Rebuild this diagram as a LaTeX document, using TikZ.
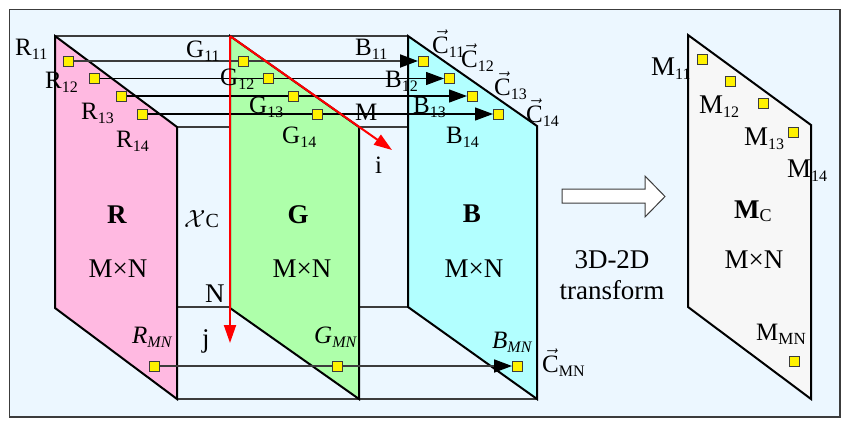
\documentclass[tikz,border=0pt]{standalone}
\usepackage{fontspec}
\setmainfont{Liberation Serif}
\usetikzlibrary{arrows.meta}
\definecolor{bgblue}{RGB}{236,247,255}
\definecolor{pinkf}{RGB}{255,185,225}
\definecolor{greenf}{RGB}{174,255,170}
\definecolor{cyanf}{RGB}{178,255,255}
\definecolor{grayf}{RGB}{247,247,247}
\definecolor{edgegray}{RGB}{60,60,60}
\newcommand\lsub[1]{\raisebox{-4pt}{\fontsize{16}{16}\selectfont #1}}
\newcommand\vecC{$\vec{\mbox{C}}$}
\pgfdeclarelayer{back}
\pgfsetlayers{back,main}
\begin{document}
\begin{tikzpicture}[x=1pt,y=-1pt,
  lbl/.style={font=\fontsize{25}{28}\selectfont, inner sep=0, anchor=base west},
  big/.style={font=\fontsize{27}{30}\selectfont, inner sep=0, anchor=base},
  panel/.style={draw=black, line width=2pt, line join=miter},
  edge/.style={draw=edgegray, line width=1.5pt},
  pt/.style={draw=edgegray, fill=yellow, line width=1pt, minimum size=10pt, inner sep=0, outer sep=0},
  row/.style={draw=black, line width=1.3pt, -{Triangle[length=18pt,width=13pt,color=black,fill=black]}},
  redarr/.style={draw=red, line width=2pt, -{Triangle[length=18pt,width=12pt]}}]
\useasboundingbox (0,0) rectangle (847,426);

% points
\node[pt] (r11) at (68,61) {};
\node[pt] (r12) at (94,78.5) {};
\node[pt] (r13) at (121,96) {};
\node[pt] (r14) at (142,114) {};
\node[pt] (g11) at (243,61) {};
\node[pt] (g12) at (268,78.5) {};
\node[pt] (g13) at (293,96) {};
\node[pt] (g14) at (317,114) {};
\node[pt] (b11) at (423,61) {};
\node[pt] (b12) at (449,78.5) {};
\node[pt] (b13) at (472,96) {};
\node[pt] (b14) at (498,114) {};
\node[pt] (rmn) at (154,366) {};
\node[pt] (gmn) at (337,366) {};
\node[pt] (bmn) at (517,366) {};
\node[pt] (m11) at (702,59) {};
\node[pt] (m12) at (730,81) {};
\node[pt] (m13) at (763,103) {};
\node[pt] (m14) at (793,132) {};
\node[pt] (mmn) at (794,361) {};

\begin{pgfonlayer}{back}
\fill[white] (0,0) rectangle (847,426);
\draw[fill=bgblue, draw=edgegray, line width=1.5pt] (9.5,9.5) rectangle (840,417);
% cuboid edges
\draw[edge] (55,36) -- (408,36);
\draw[edge] (177,127) -- (537,127);
\draw[edge] (55,307) -- (408,307);
\draw[edge] (177,399) -- (537,399);
% panels
\draw[panel, fill=pinkf] (55,36) -- (177,127) -- (177,399) -- (55,308) -- cycle;
\draw[panel, fill=greenf] (230,36) -- (359,127) -- (359,399) -- (230,308) -- cycle;
\draw[panel, fill=cyanf] (408,36) -- (537,126) -- (537,399) -- (408,307) -- cycle;
\draw[panel, fill=grayf] (688,35) -- (811,125) -- (811,399) -- (688,307) -- cycle;
% rows
\draw[row, draw=edgegray, line width=2pt] (r11) -- (b11);
\draw[row] (r12) -- (b12);
\draw[row] (r13) -- (b13);
\draw[row] (r14) -- (b14);
\draw[row, draw=edgegray, line width=1.8pt] (rmn) -- (bmn);
% block arrow
\draw[fill=white, draw=edgegray, line width=1pt] (562,189) -- (645,189) -- (645,176) -- (665,196.5) -- (645,217) -- (645,203) -- (562,203) -- cycle;
\end{pgfonlayer}

% red axes
\coordinate (gtl) at (230,36);
\coordinate (iend) at (392,150);
\coordinate (jend) at (230,343);
\draw[redarr] (gtl) -- (jend);
\draw[redarr] (gtl) -- (iend);

% labels
\node[lbl] (tR11) at (15,55) {R\lsub{11}};
\node[lbl] (tR12) at (45,88) {R\lsub{12}};
\node[lbl] (tR13) at (81,119) {R\lsub{13}};
\node[lbl] (tR14) at (116,147) {R\lsub{14}};
\node[lbl] (tG11) at (186,57) {G\lsub{11}};
\node[lbl] (tG12) at (220,85) {G\lsub{12}};
\node[lbl] (tG13) at (249,113) {G\lsub{13}};
\node[lbl] (tG14) at (282,143) {G\lsub{14}};
\node[lbl] (tM) at (355,120) {M};
\node[lbl] (tB11) at (355,55) {B\lsub{11}};
\node[lbl] (tB12) at (385,87) {B\lsub{12}};
\node[lbl] (tB13) at (413,113) {B\lsub{13}};
\node[lbl] (tB14) at (446,143) {B\lsub{14}};
\node[lbl] (ti) at (375,173) {i};
\node[lbl] (tC11) at (432,53) {\vecC\lsub{11}};
\node[lbl] (tC12) at (461,67) {\vecC\lsub{12}};
\node[lbl] (tC13) at (494,95) {\vecC\lsub{13}};
\node[lbl] (tC14) at (526,122) {\vecC\lsub{14}};
\node[lbl] (tX) at (184,227) {\fontsize{27}{30}\selectfont$\mathcal{X}$\fontsize{20}{20}\selectfont C};
\node[big] (tR) at (117,223) {\textbf{R}};
\node[big] (tRmn) at (118,277) {M×N};
\node[big] (tG) at (298,223) {\textbf{G}};
\node[big] (tGmn) at (302,277) {M×N};
\node[big] (tB) at (472,222) {\textbf{B}};
\node[big] (tBmn) at (474,277) {M×N};
\node[lbl, font=\fontsize{27}{30}\selectfont] (tN) at (205,302) {N};
\node[lbl, font=\fontsize{27}{30}\selectfont] (tj) at (202,347) {j};
\node[lbl] (tRMN) at (132,343) {\textit{R}\lsub{\textit{MN}}};
\node[lbl] (tGMN) at (314,343) {\textit{G}\lsub{\textit{MN}}};
\node[lbl] (tBMN) at (492,348) {\textit{B}\lsub{\textit{MN}}};
\node[lbl] (tCMN) at (542,372) {\vecC\lsub{MN}};
\node[big] (t3d) at (612,268) {3D-2D};
\node[big] (ttr) at (612,299) {transform};
\node[lbl, font=\fontsize{27}{30}\selectfont] (tM11) at (651,75) {M\lsub{11}};
\node[lbl, font=\fontsize{27}{30}\selectfont] (tM12) at (699,113) {M\lsub{12}};
\node[lbl, font=\fontsize{27}{30}\selectfont] (tM13) at (744,145) {M\lsub{13}};
\node[lbl, font=\fontsize{27}{30}\selectfont] (tM14) at (787,177) {M\lsub{14}};
\node[lbl, font=\fontsize{27}{30}\selectfont] (tMC) at (734,218) {\textbf{M}\raisebox{-3pt}{\fontsize{18}{18}\selectfont C}};
\node[big] (tMmn) at (754,268) {M×N};
\node[lbl] (tMMN) at (756,340) {M\raisebox{-4pt}{\fontsize{17}{17}\selectfont MN}};
\end{tikzpicture}
\end{document}
